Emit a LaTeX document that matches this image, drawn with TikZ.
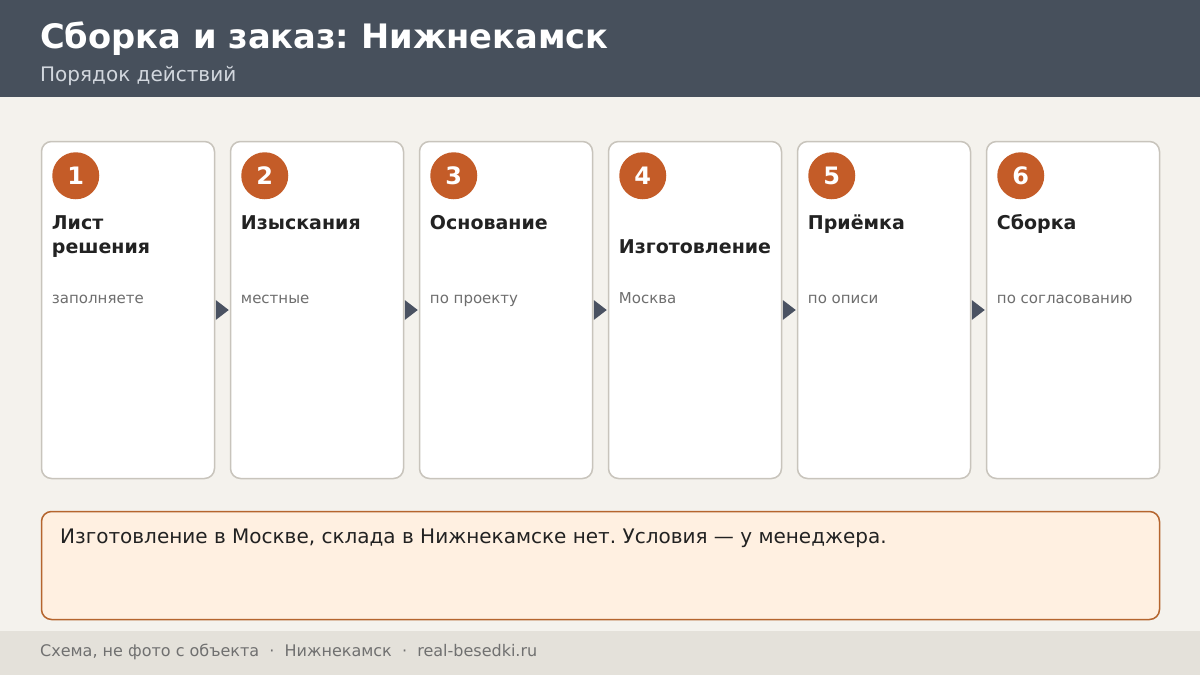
\documentclass[tikz,border=0pt]{standalone}
\usepackage{fontspec}
\setmainfont{DejaVu Sans}
\frenchspacing
\usetikzlibrary{positioning}
\definecolor{pagebg}{HTML}{F4F2ED}
\definecolor{headbg}{HTML}{47505C}
\definecolor{subclr}{HTML}{D2D7DE}
\definecolor{cardline}{HTML}{C8C4BC}
\definecolor{stepclr}{HTML}{C45C28}
\definecolor{titleclr}{HTML}{222222}
\definecolor{descclr}{HTML}{6E6E6E}
\definecolor{arrowclr}{HTML}{4A5262}
\definecolor{notefill}{HTML}{FFF0E1}
\definecolor{noteline}{HTML}{B5652E}
\definecolor{footbg}{HTML}{E4E1DA}
\definecolor{footclr}{HTML}{707070}
\tikzset{
	card/.style={draw=cardline, line width=1.5pt, fill=white, rounded corners=10pt,
		minimum width=173pt, minimum height=337pt, inner sep=0pt},
	stepnum/.style={circle, fill=stepclr, minimum size=47pt, inner sep=0pt,
		text=white, font=\fontsize{24}{28}\selectfont\bfseries},
	steptitle/.style={anchor=base west, inner sep=0pt, align=left, text=titleclr,
		font=\fontsize{19}{23.5}\selectfont\bfseries},
	stepnote/.style={anchor=base west, inner sep=0pt, text=descclr,
		font=\fontsize{15}{18}\selectfont},
	flowmark/.style={fill=arrowclr},
}
\begin{document}
\begin{tikzpicture}[x=1pt,y=-1pt]
			\useasboundingbox (0,0) rectangle (1200,675);
			\fill[pagebg] (0,0) rectangle (1200,675);
			% header
			\fill[headbg] (0,0) rectangle (1200,97);
			\node[anchor=base west, inner sep=0pt, text=white, font=\fontsize{33.7}{40}\selectfont\bfseries] (title) at (40,48) {Сборка и заказ: Нижнекамск};
			\node[anchor=base west, inner sep=0pt, text=subclr, font=\fontsize{20}{24}\selectfont] (subtitle) at (40,81) {Порядок действий};
			% cards
			\begin{scope}[node distance=14.5pt]
				\node[card] (card1) at (128,310) {};
				\node[card, right=of card1] (card2) {};
				\node[card, right=of card2] (card3) {};
				\node[card, right=of card3] (card4) {};
				\node[card, right=of card4] (card5) {};
				\node[card, right=of card5] (card6) {};
			\end{scope}
			\begin{scope}
				\node[stepnum] (num1) at ([shift={(35,35)}]card1.north west) {1};
				\node[stepnum] (num2) at ([shift={(35,35)}]card2.north west) {2};
				\node[stepnum] (num3) at ([shift={(35,35)}]card3.north west) {3};
				\node[stepnum] (num4) at ([shift={(35,35)}]card4.north west) {4};
				\node[stepnum] (num5) at ([shift={(35,35)}]card5.north west) {5};
				\node[stepnum] (num6) at ([shift={(35,35)}]card6.north west) {6};
			\end{scope}
			\begin{scope}
				% two-line title: base is the last line
				\node[steptitle] (head1) at ([shift={(11,112.5)}]card1.north west) {Лист\\решения};
				\node[steptitle] (head2) at ([shift={(11,89)}]card2.north west) {Изыскания};
				\node[steptitle] (head3) at ([shift={(11,89)}]card3.north west) {Основание};
				\node[steptitle] (head4) at ([shift={(11,113)}]card4.north west) {Изготовление};
				\node[steptitle] (head5) at ([shift={(11,89)}]card5.north west) {Приёмка};
				\node[steptitle] (head6) at ([shift={(11,89)}]card6.north west) {Сборка};
			\end{scope}
			\begin{scope}
				\node[stepnote] (desc1) at ([shift={(11,163)}]card1.north west) {заполняете};
				\node[stepnote] (desc2) at ([shift={(11,163)}]card2.north west) {местные};
				\node[stepnote] (desc3) at ([shift={(11,163)}]card3.north west) {по проекту};
				\node[stepnote] (desc4) at ([shift={(11,163)}]card4.north west) {Москва};
				\node[stepnote] (desc5) at ([shift={(11,163)}]card5.north west) {по описи};
				\node[stepnote] (desc6) at ([shift={(11,163)}]card6.north west) {по согласованию};
			\end{scope}
			% arrows between cards
			\fill[flowmark] ([xshift=0.5pt]card1.east) ++(0,-10) -- ++(13,10) -- ++(-13,10) -- cycle;
			\fill[flowmark] ([xshift=0.5pt]card2.east) ++(0,-10) -- ++(13,10) -- ++(-13,10) -- cycle;
			\fill[flowmark] ([xshift=0.5pt]card3.east) ++(0,-10) -- ++(13,10) -- ++(-13,10) -- cycle;
			\fill[flowmark] ([xshift=0.5pt]card4.east) ++(0,-10) -- ++(13,10) -- ++(-13,10) -- cycle;
			\fill[flowmark] ([xshift=0.5pt]card5.east) ++(0,-10) -- ++(13,10) -- ++(-13,10) -- cycle;
			% note
			\node[draw=noteline, line width=1.5pt, fill=notefill, rounded corners=10pt, minimum width=1118pt, minimum height=108pt, inner sep=0pt] (note) at (600.5,565.5) {};
			\node[anchor=base west, inner sep=0pt, text=titleclr, font=\fontsize{20}{24}\selectfont] (notetext) at (60,543) {Изготовление в Москве, склада в Нижнекамске нет. Условия — у менеджера.};
			% footer
			\fill[footbg] (0,631) rectangle (1200,675);
			\node[anchor=base west, inner sep=0pt, text=footclr, font=\fontsize{16}{19}\selectfont] (foot) at (40,656) {Схема, не фото с объекта ~·~ Нижнекамск ~·~ real-besedki.ru};
\end{tikzpicture}
\end{document}
